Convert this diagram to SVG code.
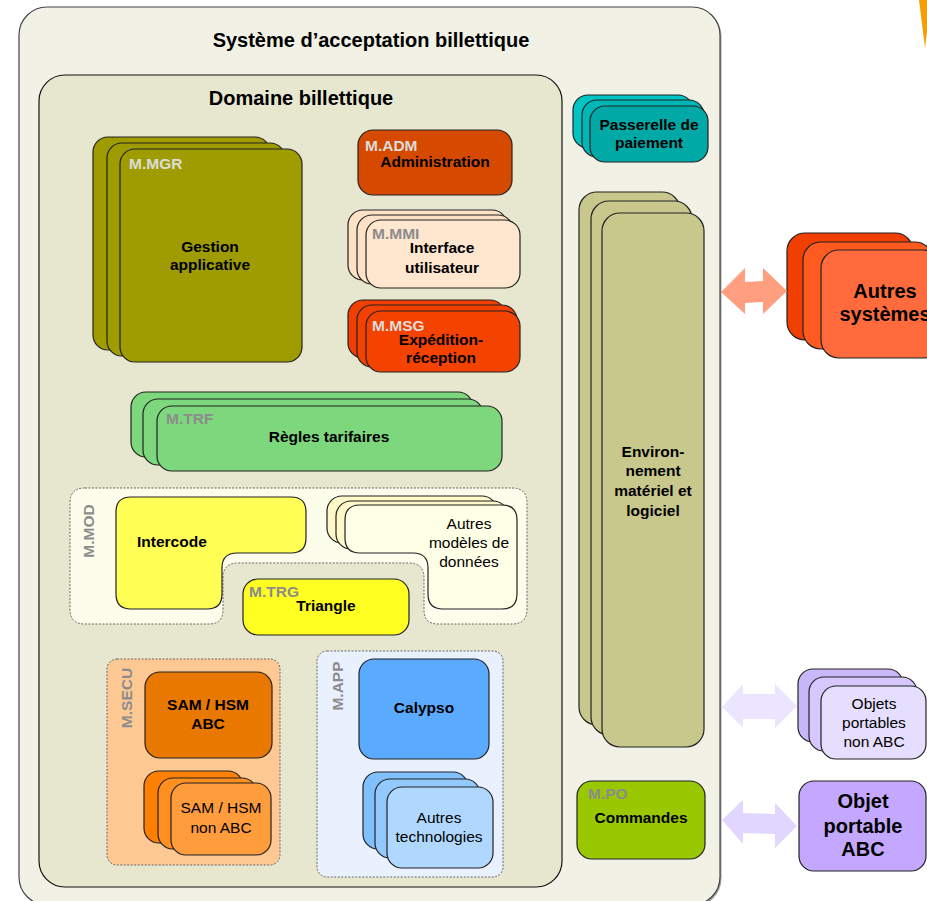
<svg xmlns="http://www.w3.org/2000/svg" width="927" height="901" viewBox="0 0 927 901">
<style>
text{font-family:"Liberation Sans",Arial,sans-serif;font-size:15.5px;fill:#000}
.b{font-weight:bold}
.t{font-weight:bold;font-size:20px}
.big{font-weight:bold;font-size:20px}
.c{text-anchor:middle}
.lw{font-weight:bold;fill:#dcdcdc}
.lg{font-weight:bold;fill:#8c8c8c}
.box{stroke:#222;stroke-width:1.2}
.dash{stroke:#666;stroke-width:1;stroke-dasharray:2 1.5}
</style>
<rect width="927" height="901" fill="#ffffff"/>
<polygon points="919,0 927,0 927,32 925,48" fill="#f0a000"/>
<g id="systeme">
<rect x="20.5" y="8.5" width="701" height="898" rx="28" fill="#a0a0a0"/>
<rect x="19" y="7" width="701" height="898" rx="28" fill="#f1f1e6" stroke="#444" stroke-width="1.2"/>
<text class="t c" x="371" y="47">Système d’acceptation billettique</text>
</g>
<g id="domaine">
<rect x="39" y="75" width="523" height="812" rx="26" fill="#e7e7d0" stroke="#111" stroke-width="1.2"/>
<text class="t c" x="301" y="105">Domaine billettique</text>
</g>
<g id="mgr">
<rect class="box" x="93" y="137" width="177" height="213" rx="15" fill="#9e9c00"/>
<rect class="box" x="107" y="143" width="178" height="213" rx="15" fill="#9e9c00"/>
<rect class="box" x="120" y="149" width="182" height="213" rx="15" fill="#9e9c00"/>
<text class="lw" x="129" y="169">M.MGR</text>
<text class="b c" x="210" y="252">Gestion</text>
<text class="b c" x="210" y="270">applicative</text>
</g>
<g id="adm">
<rect class="box" x="358" y="130" width="154" height="65" rx="15" fill="#d64a00"/>
<text class="lw" x="365" y="151">M.ADM</text>
<text class="b c" x="435" y="167">Administration</text>
</g>
<g id="mmi">
<rect class="box" x="348" y="210" width="159" height="70" rx="15" fill="#fde2c8"/>
<rect class="box" x="357" y="215" width="156" height="69" rx="15" fill="#fde2c8"/>
<rect class="box" x="366" y="220" width="154" height="68" rx="15" fill="#fee6cf"/>
<text class="lg" x="372" y="239">M.MMI</text>
<text class="b c" x="442" y="253">Interface</text>
<text class="b c" x="442" y="273">utilisateur</text>
</g>
<g id="msg">
<rect class="box" x="348" y="300" width="157" height="58" rx="15" fill="#f03f00"/>
<rect class="box" x="357" y="305" width="160" height="62" rx="15" fill="#f24100"/>
<rect class="box" x="366" y="311" width="154" height="61" rx="15" fill="#f44200"/>
<text class="lw" x="372" y="331">M.MSG</text>
<text class="b c" x="441" y="345">Expédition-</text>
<text class="b c" x="441" y="363">réception</text>
</g>
<g id="passerelle">
<rect class="box" x="573" y="95" width="120" height="53" rx="15" fill="#00c4c4"/>
<rect class="box" x="582" y="100" width="122" height="57" rx="15" fill="#00b6b6"/>
<rect class="box" x="590" y="106" width="118" height="56" rx="15" fill="#00a8a6"/>
<text class="b c" x="649" y="130">Passerelle de</text>
<text class="b c" x="649" y="148">paiement</text>
</g>
<g id="environnement">
<rect class="box" x="579" y="192" width="101" height="533" rx="18" fill="#c8c88c"/>
<rect class="box" x="591" y="201" width="101" height="534" rx="18" fill="#c8c88c"/>
<rect class="box" x="602" y="213" width="102" height="534" rx="18" fill="#c8c88c"/>
<text class="b c" x="653" y="457">Environ-</text>
<text class="b c" x="653" y="476">nement</text>
<text class="b c" x="653" y="496">matériel et</text>
<text class="b c" x="653" y="516">logiciel</text>
</g>
<g id="trf">
<rect class="box" x="131" y="392" width="342" height="65" rx="15" fill="#7dd77d"/>
<rect class="box" x="143" y="399" width="340" height="66" rx="15" fill="#7dd77d"/>
<rect class="box" x="157" y="406" width="345" height="65" rx="15" fill="#7dd77d"/>
<text class="lg" x="166" y="424">M.TRF</text>
<text class="b c" x="329" y="442">Règles tarifaires</text>
</g>
<g id="mod">
<path class="dash" d="M 85,488 H 512 Q 527,488 527,503 V 609 Q 527,624 512,624 H 438 Q 424,624 424,610 V 578 Q 424,563 409,563 H 238 Q 223,563 223,578 V 610 Q 223,624 209,624 H 85 Q 70,624 70,609 V 503 Q 70,488 85,488 Z" fill="#fdfdec"/>
<text class="lg c" transform="translate(94,531) rotate(-90)">M.MOD</text>
</g>
<g id="intercode">
<path class="box" d="M 131,497 H 291 Q 306,497 306,512 V 538 Q 306,553 291,553 H 237 Q 222,553 222,568 V 594 Q 222,609 207,609 H 131 Q 116,609 116,594 V 512 Q 116,497 131,497 Z" fill="#ffff55"/>
<text class="b" x="137" y="547">Intercode</text>
</g>
<g id="autres-modeles">
<rect class="box" x="327" y="496" width="170" height="47" rx="15" fill="#fff8c8"/>
<rect class="box" x="336" y="501" width="172" height="48" rx="15" fill="#fff8c8"/>
<path class="box" d="M 360,505 H 502 Q 517,505 517,520 V 594 Q 517,609 502,609 H 443 Q 428,609 428,594 V 568 Q 428,553 413,553 H 360 Q 345,553 345,538 V 520 Q 345,505 360,505 Z" fill="#fffee6"/>
<text class="c" x="469" y="529">Autres</text>
<text class="c" x="469" y="548">modèles de</text>
<text class="c" x="469" y="567">données</text>
</g>
<g id="trg">
<rect class="box" x="243" y="579" width="166" height="56" rx="15" fill="#ffff22"/>
<text class="lg" x="249" y="597">M.TRG</text>
<text class="b c" x="326" y="611">Triangle</text>
</g>
<g id="secu">
<rect class="dash" x="107" y="659" width="173" height="206" rx="10" fill="#fec892"/>
<text class="lg c" transform="translate(132,698) rotate(-90)">M.SECU</text>
</g>
<g id="sam-abc">
<rect class="box" x="145" y="672" width="127" height="86" rx="15" fill="#e97800"/>
<text class="b c" x="208" y="710">SAM / HSM</text>
<text class="b c" x="208" y="729">ABC</text>
</g>
<g id="sam-non-abc">
<rect class="box" x="144" y="771" width="99" height="72" rx="15" fill="#ff8000"/>
<rect class="box" x="158" y="778" width="99" height="71" rx="15" fill="#ff8f1e"/>
<rect class="box" x="171" y="783" width="100" height="72" rx="15" fill="#ff9c3c"/>
<text class="c" x="221" y="813">SAM / HSM</text>
<text class="c" x="221" y="833">non ABC</text>
</g>
<g id="app">
<rect class="dash" x="317" y="651" width="186" height="226" rx="10" fill="#e9f1ff"/>
<text class="lg c" transform="translate(343,686) rotate(-90)">M.APP</text>
</g>
<g id="calypso">
<rect class="box" x="359" y="659" width="130" height="100" rx="15" fill="#5aabff"/>
<text class="b c" x="424" y="713">Calypso</text>
</g>
<g id="autres-technologies">
<rect class="box" x="363" y="772" width="105" height="77" rx="15" fill="#80c0ff"/>
<rect class="box" x="375" y="779" width="105" height="79" rx="15" fill="#92caff"/>
<rect class="box" x="387" y="787" width="106" height="81" rx="15" fill="#b0d8ff"/>
<text class="c" x="439" y="823">Autres</text>
<text class="c" x="439" y="842">technologies</text>
</g>
<g id="commandes">
<rect class="box" x="577" y="781" width="128" height="78" rx="15" fill="#99c800"/>
<text class="lg" x="588" y="799">M.PO</text>
<text class="b c" x="641" y="823">Commandes</text>
</g>
<g id="autres-systemes">
<rect class="box" x="787" y="233" width="126" height="107" rx="18" fill="#f03f00"/>
<rect class="box" x="803" y="242" width="130" height="107" rx="18" fill="#ff5a20"/>
<rect class="box" x="821" y="250" width="120" height="108" rx="18" fill="#ff6b3c"/>
<text class="big c" x="885" y="298">Autres</text>
<text class="big c" x="885" y="321">systèmes</text>
</g>
<g id="objets-non-abc">
<rect class="box" x="798" y="669" width="105" height="73" rx="15" fill="#c8b8fa"/>
<rect class="box" x="809" y="677" width="108" height="74" rx="15" fill="#d6c8ff"/>
<rect class="box" x="821" y="686" width="105" height="73" rx="15" fill="#e6defe"/>
<text class="c" x="874" y="709">Objets</text>
<text class="c" x="874" y="728">portables</text>
<text class="c" x="874" y="747">non ABC</text>
</g>
<g id="objet-abc">
<rect class="box" x="799" y="781" width="127" height="90" rx="15" fill="#c4a8ff"/>
<text class="big c" x="863" y="808">Objet</text>
<text class="big c" x="863" y="833">portable</text>
<text class="big c" x="863" y="856">ABC</text>
</g>
<g id="connectors">
<polygon points="721,292 745,268 745,282 763,281 763,268 787,291 763,314 763,302 745,303 745,314" fill="#ff9f80"/>
<polygon points="722,707 743,684 743,694 775,694 775,684 797,706 775,728 775,719 743,719 743,728" fill="#ebe5ff"/>
<polygon points="722,820 743,800 743,813 775,814 775,803 797,826 775,848 775,834 743,833 743,844" fill="#e0d6ff"/>
</g>
</svg>
